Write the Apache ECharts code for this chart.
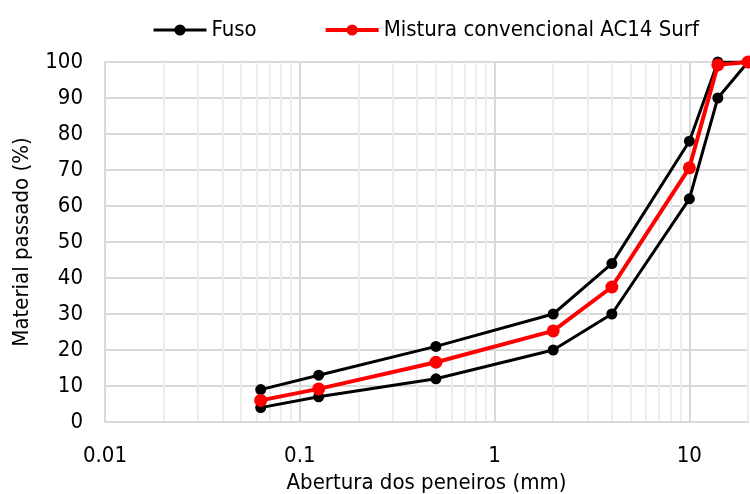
<!DOCTYPE html>
<html>
<head>
<meta charset="utf-8">
<script src="https://cdn.jsdelivr.net/npm/echarts@6/dist/echarts.min.js"></script>
<style>
  html, body { margin: 0; padding: 0; background: #fff; }
  #chart { width: 750px; height: 494px; }
</style>
</head>
<body>
<div id="chart"></div>
<script>
// Sieve openings (mm)
const sieveSizes = [0.063, 0.125, 0.5, 2, 4, 10, 14, 20];
// Grading envelope (upper and lower limits), % passing
const fusoUpper = [9, 13, 21, 30, 44, 78, 100, 100];
const fusoLower = [4, 7, 12, 20, 30, 62, 90, 100];
// Conventional AC14 Surf mixture, % passing
const mistura = [6, 9.2, 16.6, 25.3, 37.5, 70.6, 99.2, 100];
// Intermediate log grid values
const minorTicks = [0.02, 0.03, 0.04, 0.05, 0.06, 0.07, 0.08, 0.09,
                    0.2, 0.3, 0.4, 0.5, 0.6, 0.7, 0.8, 0.9,
                    2, 3, 4, 5, 6, 7, 8, 9, 20];

const FONT = "'DejaVu Sans Condensed', 'DejaVu Sans', sans-serif";
const FS = 22;
const pairs = (ys) => sieveSizes.map((x, i) => [x, ys[i]]);

const chart = echarts.init(document.getElementById('chart'), null, { renderer: 'canvas' });
chart.setOption({
  animation: false,
  backgroundColor: '#ffffff',
  textStyle: { fontFamily: FONT },
  legend: {
    top: 14,
    left: 147,
    data: [
      { name: 'Fuso', lineStyle: { width: 3 } },
      { name: 'Mistura convencional AC14 Surf', lineStyle: { width: 4 } }
    ],
    itemWidth: 53,
    itemHeight: 14,
    itemGap: 67,
    textStyle: { fontFamily: FONT, fontSize: FS, color: '#000' }
  },
  grid: { left: 105, right: 2, top: 62, bottom: 72, containLabel: false, outerBoundsMode: 'none' },
  xAxis: {
    type: 'log',
    logBase: 10,
    min: 0.01,
    max: 20,
    name: 'Abertura dos peneiros (mm)',
    nameLocation: 'middle',
    nameGap: 50,
    nameTextStyle: { fontFamily: FONT, fontSize: FS, color: '#000' },
    axisLine: { show: true, lineStyle: { color: '#d9d9d9', width: 2 } },
    axisTick: { show: false },
    axisLabel: {
      fontFamily: FONT, fontSize: FS, color: '#000', margin: 23,
      showMaxLabel: false,
      formatter: (v) => String(+v.toPrecision(6))
    },
    splitLine: { show: true, lineStyle: { color: '#d9d9d9', width: 2 } }
  },
  yAxis: {
    type: 'value',
    min: 0,
    max: 100,
    interval: 10,
    name: 'Material passado (%)',
    nameLocation: 'middle',
    nameGap: 72,
    nameTextStyle: { fontFamily: FONT, fontSize: FS, color: '#000' },
    axisLine: { show: true, lineStyle: { color: '#d9d9d9', width: 2 } },
    axisTick: { show: false },
    axisLabel: { fontFamily: FONT, fontSize: FS, color: '#000', margin: 22 },
    splitLine: { show: true, lineStyle: { color: '#d9d9d9', width: 2 } }
  },
  series: [
    {
      name: 'minor-grid',
      type: 'line',
      data: [],
      silent: true,
      z: 0,
      markLine: {
        silent: true,
        z: 0,
        symbol: 'none',
        label: { show: false },
        animation: false,
        lineStyle: { color: '#ededed', width: 2, type: 'solid' },
        data: minorTicks.map(v => ({ xAxis: v }))
      }
    },
    {
      name: 'Fuso',
      type: 'line',
      data: pairs(fusoUpper),
      color: '#000000',
      symbol: 'circle',
      symbolSize: 11,
      lineStyle: { color: '#000', width: 3 },
      itemStyle: { color: '#000' },
      z: 3
    },
    {
      name: 'Fuso',
      type: 'line',
      data: pairs(fusoLower),
      color: '#000000',
      symbol: 'circle',
      symbolSize: 11,
      lineStyle: { color: '#000', width: 3 },
      itemStyle: { color: '#000' },
      z: 3
    },
    {
      name: 'Mistura convencional AC14 Surf',
      type: 'line',
      data: pairs(mistura),
      color: '#ff0000',
      symbol: 'circle',
      symbolSize: 13,
      lineStyle: { color: '#ff0000', width: 4 },
      itemStyle: { color: '#ff0000' },
      z: 4
    }
  ]
});
</script>
</body>
</html>
